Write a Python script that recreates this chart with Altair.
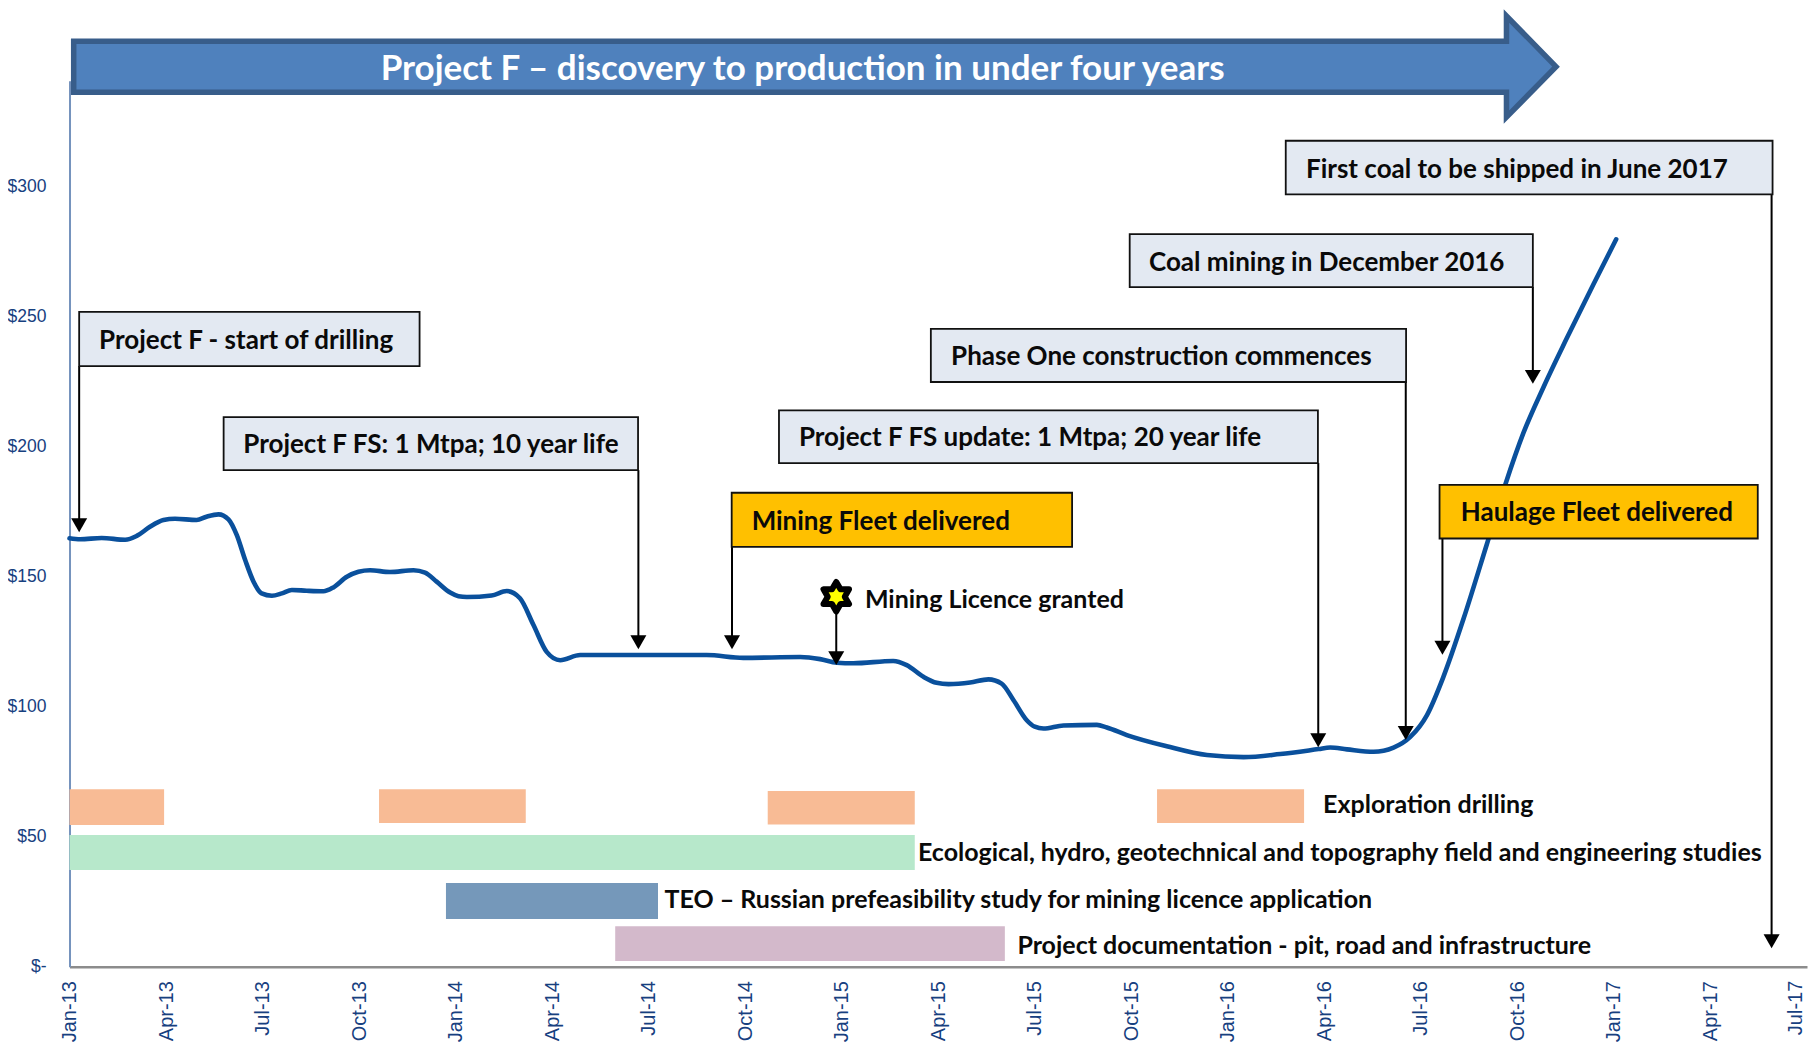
import json
import altair as alt
import pandas as pd

# x values are months since Jan-13, y values are US$
TICK_MONTHS = list(range(0, 55, 3))
TICK_LABELS = ["Jan-13", "Apr-13", "Jul-13", "Oct-13", "Jan-14", "Apr-14", "Jul-14", "Oct-14", "Jan-15",
               "Apr-15", "Jul-15", "Oct-15", "Jan-16", "Apr-16", "Jul-16", "Oct-16", "Jan-17", "Apr-17", ""]
LAST_TICK_LABEL = ["Jul-17"]
LAST_TICK_M = [53.66]
LAST_TICK_V = [-5.4]
Y_TICKS = [0, 50, 100, 150, 200, 250, 300]

PRICE_M = [0, .33, 1, 1.73, 2.09, 2.5, 2.92, 3.28, 3.95, 4.26, 4.63, 4.94, 5.2, 5.46, 5.72, 5.97, 6.29, 6.6, 6.91,
           7.37, 7.89, 8.2, 8.62, 8.98, 9.34, 9.96, 10.69, 11.05, 11.41, 11.83, 12.09, 12.35, 13.12, 13.59, 14.0,
           14.42, 14.83, 15.25, 15.87, 17.63, 19.8, 20.94, 22.71, 23.33, 23.85, 24.36, 25.6, 26.02, 26.54, 26.95,
           27.32, 27.99, 28.56, 28.97, 29.34, 29.75, 30.0, 30.27, 30.89, 31.93, 32.24, 32.86, 34.1, 35.35, 36.49,
           37.63, 38.82, 39.18, 39.7, 40.53, 41.15, 41.67, 42.19, 42.7, 43.33, 44.05, 44.62, 45.19, 45.81, 46.53,
           47.36, 48.07]
PRICE_V = [164.8, 164.4, 164.9, 164.2, 165.7, 169.2, 171.8, 172.3, 171.8, 173.1, 174.0, 172.1, 166.0, 156.4, 148.1,
           143.6, 142.7, 143.6, 144.9, 144.6, 144.4, 145.9, 150.0, 151.9, 152.5, 151.8, 152.5, 151.6, 148.1, 143.9,
           142.5, 142.2, 142.8, 144.5, 141.7, 131.4, 121.1, 117.9, 119.9, 119.9, 119.9, 118.8, 119.1, 118.3, 116.9,
           116.7, 117.6, 116.0, 111.5, 109.2, 108.7, 109.3, 110.5, 108.9, 102.5, 94.8, 92.3, 91.6, 92.8, 93.0, 92.0,
           89.1, 84.8, 81.4, 80.6, 81.8, 83.7, 84.3, 83.6, 82.7, 84.3, 88.4, 96.8, 111.5, 134.0, 162.5, 185.3, 205.4,
           222.9, 241.6, 262.4, 279.8]

BAR_START = [0, 9.62, 21.7, 33.8, 0, 11.7, 16.96]
BAR_END = [2.94, 14.18, 26.27, 38.37, 26.27, 18.29, 29.07]
BAR_TOP = [68.3, 68.3, 67.6, 68.3, 50.7, 32.2, 15.6]
BAR_BOTTOM = [54.5, 55.3, 54.7, 55.3, 37.2, 18.3, 2.2]
BAR_FILL = ["#F8BB95", "#F8BB95", "#F8BB95", "#F8BB95", "#B7E8CB", "#7598BA", "#D3B9CB"]

BOX_TEXT = ["Project F - start of drilling", "Project F FS: 1 Mtpa; 10 year life",
            "Project F FS update: 1 Mtpa; 20 year life", "Phase One construction commences",
            "Coal mining in December 2016", "First coal to be shipped in June 2017",
            "Mining Fleet delivered", "Haulage Fleet delivered"]
BOX_START = [0.3, 4.79, 22.05, 26.77, 32.95, 37.8, 20.58, 42.58]
BOX_END = [10.88, 17.67, 38.8, 41.54, 45.48, 52.93, 31.16, 52.47]
BOX_TOP = [251.9, 211.4, 214.0, 245.3, 281.8, 317.7, 182.3, 185.3]
BOX_BOTTOM = [231.0, 191.0, 193.7, 224.9, 261.4, 297.1, 161.5, 164.7]
BOX_FILL = ["#E3E9F2"] * 6 + ["#FFC000"] * 2
BOX_TEXT_M = [0.92, 5.4, 22.67, 27.4, 33.55, 38.43, 21.2, 43.24]
BOX_TEXT_V = [241.4, 201.2, 203.9, 235.1, 271.4, 307.2, 171.8, 174.9]

ARROW_M = [0.3, 17.68, 20.59, 23.83, 38.81, 41.53, 45.48, 42.67, 52.9]
ARROW_FROM = [231.0, 191.0, 161.5, 137.2, 193.7, 224.9, 261.4, 164.7, 297.1]
ARROW_TIP = [167.1, 122.1, 122.1, 116.0, 84.4, 87.2, 224.2, 120.0, 7.1]

LABEL_TEXT = ["Exploration drilling", "Ecological, hydro, geotechnical and topography field and engineering studies",
              "TEO \u2013 Russian prefeasibility study for mining licence application",
              "Project documentation - pit, road and infrastructure", "Mining Licence granted"]
LABEL_M = [38.96, 26.37, 18.49, 29.46, 24.72]
LABEL_V = [62.7, 44.1, 26.0, 8.3, 141.3]

STAR_M = [23.83]
STAR_V = [142.3]

BANNER_M = [0.13, 44.66, 44.66, 46.2]
BANNER_TOP = [356.0, 356.0, 365.7, 346.2]
BANNER_BOTTOM = [336.4, 336.4, 326.8, 346.2]
BANNER_TEXT = "Project F \u2013 discovery to production in under four years"
BANNER_TEXT_M = [9.67]
BANNER_TEXT_V = [346.0]

NAVY = "#17407F"
FONT = "Lato"

xs = alt.Scale(domain=[0, 54], nice=False, zero=False)
ys = alt.Scale(domain=[0, 340.8], nice=False)


def X(field="m"):
    return alt.X(f"{field}:Q", scale=xs, title=None)


def Y(field="v"):
    return alt.Y(f"{field}:Q", scale=ys, title=None)


price = pd.DataFrame({"m": PRICE_M, "v": PRICE_V})
bars = pd.DataFrame({"m": BAR_START, "m2": BAR_END, "v": BAR_TOP, "v2": BAR_BOTTOM, "fill": BAR_FILL})
boxes = pd.DataFrame({"m": BOX_START, "m2": BOX_END, "v": BOX_TOP, "v2": BOX_BOTTOM, "fill": BOX_FILL})
box_text = pd.DataFrame({"m": BOX_TEXT_M, "v": BOX_TEXT_V, "t": BOX_TEXT})
labels = pd.DataFrame({"m": LABEL_M, "v": LABEL_V, "t": LABEL_TEXT})
arrows = pd.DataFrame({"m": ARROW_M, "v": ARROW_FROM, "tip": ARROW_TIP})
arrows["v2"] = arrows["tip"] + 2.7
banner = pd.DataFrame({"m": BANNER_M, "v": BANNER_TOP, "v2": BANNER_BOTTOM})
banner_text = pd.DataFrame({"m": BANNER_TEXT_M, "v": BANNER_TEXT_V, "t": [BANNER_TEXT]})
star = pd.DataFrame({"m": STAR_M, "v": STAR_V})
last_tick = pd.DataFrame({"m": LAST_TICK_M, "v": LAST_TICK_V, "t": LAST_TICK_LABEL})

x_axis = alt.Axis(values=TICK_MONTHS, labelExpr=json.dumps(TICK_LABELS) + "[datum.value/3]", labelAngle=270,
                  labelFont="Liberation Sans", labelFontSize=20, labelColor=NAVY, labelPadding=14, ticks=False,
                  grid=False, domainColor="#8C8C8C", domainWidth=2.5, labelOverlap=False, labelBound=False,
                  labelFlush=False, title=None)
y_axis = alt.Axis(values=Y_TICKS,
                  labelExpr="datum.value === 0 ? '$-\u00a0\u00a0' : '$' + datum.value",
                  labelFont="Liberation Sans", labelFontSize=17.5, labelColor=NAVY, labelPadding=23.5, ticks=False,
                  grid=False, domainColor="#7593BD", domainWidth=2, labelOverlap=False, labelBound=False, title=None)

bar_layer = alt.Chart(bars).mark_rect().encode(
    x=alt.X("m:Q", scale=xs, axis=x_axis, title=None), x2="m2:Q",
    y=alt.Y("v:Q", scale=ys, axis=y_axis, title=None), y2="v2:Q",
    fill=alt.Fill("fill:N", scale=None))

last_tick_layer = alt.Chart(last_tick).mark_text(angle=270, align="right", baseline="middle", font="Liberation Sans",
                                                 fontSize=20, color=NAVY).encode(x=X(), y=Y(), text="t:N")

line_layer = alt.Chart(price).mark_line(color="#0A509C", strokeWidth=4.6, interpolate="monotone",
                                        strokeCap="round").encode(x=X(), y=Y())

rule_layer = alt.Chart(arrows).mark_rule(color="black", strokeWidth=2).encode(x=X(), y=Y(), y2="v2:Q")
head_layer = alt.Chart(arrows).mark_point(shape="triangle-down", size=256, filled=True, color="black",
                                          opacity=1).encode(x=X(), y=Y("v2"))

box_layer = alt.Chart(boxes).mark_rect(stroke="#111111", strokeWidth=1.8).encode(
    x=X(), x2="m2:Q", y=Y(), y2="v2:Q", fill=alt.Fill("fill:N", scale=None))
box_text_layer = alt.Chart(box_text).mark_text(align="left", baseline="middle", font=FONT, fontWeight="bold",
                                               fontSize=26, dy=1.5, color="#0A0A0A").encode(x=X(), y=Y(), text="t:N")
label_layer = alt.Chart(labels).mark_text(align="left", baseline="middle", font=FONT, fontWeight="bold",
                                          fontSize=25, dy=1, color="#0A0A0A").encode(x=X(), y=Y(), text="t:N")

HEXAGRAM = ("M0,-1 L0.289,-0.5 L0.866,-0.5 L0.577,0 L0.866,0.5 L0.289,0.5 "
            "L0,1 L-0.289,0.5 L-0.866,0.5 L-0.577,0 L-0.866,-0.5 L-0.289,-0.5 Z")
star_layer = alt.Chart(star).mark_point(shape=HEXAGRAM, size=870, filled=True, fill="#FFFF00", stroke="black",
                                        strokeWidth=6, strokeJoin="round", opacity=1).encode(x=X(), y=Y())

banner_layer = alt.Chart(banner).mark_area(orient="vertical", color="#4F81BD", stroke="#385D8A", strokeWidth=5.5,
                                           strokeJoin="miter", opacity=1).encode(x=X(), y=Y(), y2="v2:Q")
banner_text_layer = alt.Chart(banner_text).mark_text(align="left", baseline="middle", font=FONT, fontWeight="bold",
                                                     fontSize=35, dy=1.5, color="white").encode(x=X(), y=Y(), text="t:N")

chart = alt.layer(bar_layer, last_tick_layer, line_layer, rule_layer, head_layer, box_layer, box_text_layer,
                  label_layer, star_layer, banner_layer, banner_text_layer).properties(
    width=1737.5, height=886, autosize="none",
    padding={"left": 61.5, "top": 72.7, "right": 1, "bottom": 76},
).configure_view(stroke=None)

chart.save("out.html", embed_options={"renderer": "svg", "actions": False})
